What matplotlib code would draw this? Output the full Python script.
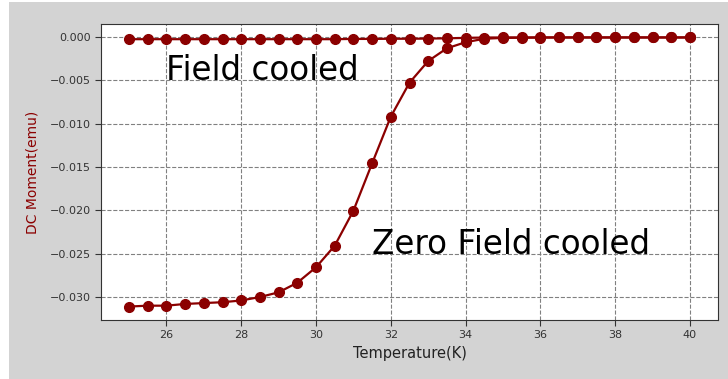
import matplotlib
matplotlib.use("Agg")
import matplotlib.pyplot as plt
from matplotlib.patches import Rectangle

# Temperature steps (K)
temperature = [25.0, 25.5, 26.0, 26.5, 27.0, 27.5, 28.0, 28.5, 29.0, 29.5,
               30.0, 30.5, 31.0, 31.5, 32.0, 32.5, 33.0, 33.5, 34.0, 34.5,
               35.0, 35.5, 36.0, 36.5, 37.0, 37.5, 38.0, 38.5, 39.0, 39.5, 40.0]

# Field cooled moment (emu)
fc_moment = [-0.00025, -0.00025, -0.00025, -0.00025, -0.00025, -0.00025,
             -0.00025, -0.00025, -0.00025, -0.00025, -0.00025, -0.00025,
             -0.00022, -0.00022, -0.0002, -0.0002, -0.00018, -0.00015,
             -0.0001, -0.00006, -0.00005, -0.00005, -0.00005, -0.00005,
             -0.00005, -0.00005, -0.00005, -0.00005, -0.00005, -0.00005,
             -0.00005]

# Zero field cooled moment (emu)
zfc_moment = [-0.0311, -0.0310, -0.0310, -0.0308, -0.0307, -0.0306, -0.0304,
              -0.0300, -0.02946, -0.02835, -0.02657, -0.02408, -0.02004,
              -0.01458, -0.00919, -0.00527, -0.00277, -0.0013, -0.0006,
              -0.0002, -0.0001, -0.00008, -0.00006, -0.00005, -0.00005,
              -0.00005, -0.00005, -0.00005, -0.00005, -0.00005, -0.00005]

fig = plt.figure(figsize=(7.28, 3.79), dpi=100, facecolor="#d3d3d3")
# thin white strip from the original screenshot
fig.patches.append(Rectangle((0, 0), 9 / 728, 1, transform=fig.transFigure,
                             facecolor="white", edgecolor="none", zorder=0))
fig.patches.append(Rectangle((0, 1 - 2 / 379), 1, 2 / 379, transform=fig.transFigure,
                             facecolor="white", edgecolor="none", zorder=0))

ax = fig.add_axes([101 / 728, 59 / 379, 617 / 728, 296 / 379])
ax.set_facecolor("white")

ax.plot(temperature, fc_moment, color="darkred", marker="o", markersize=7, linewidth=1.6)
ax.plot(temperature, zfc_moment, color="darkred", marker="o", markersize=7, linewidth=1.6)

ax.text(26, -0.005, "Field cooled", fontsize=23.5, color="black")
ax.text(31.5, -0.025, "Zero Field cooled", fontsize=23.5, color="black")

ax.set_xticks([26, 28, 30, 32, 34, 36, 38, 40])
ax.set_yticks([0.0, -0.005, -0.010, -0.015, -0.020, -0.025, -0.030])
ax.yaxis.set_major_formatter(matplotlib.ticker.FuncFormatter(
    lambda v, p: ("%.3f" % v).replace("-", "\u2212")))
ax.tick_params(labelsize=8, direction="out", top=False, right=False, length=4,
               colors="#333333")
ax.grid(True, linestyle="--", color="gray", linewidth=0.8)

ax.set_xlabel("Temperature(K)", fontsize=10.5, color="#222222")
ax.set_ylabel("DC Moment(emu)", fontsize=10, color="darkred", labelpad=7)

for s in ax.spines.values():
    s.set_color("#333333")

fig.savefig("out.png", dpi=100, facecolor=fig.get_facecolor())
